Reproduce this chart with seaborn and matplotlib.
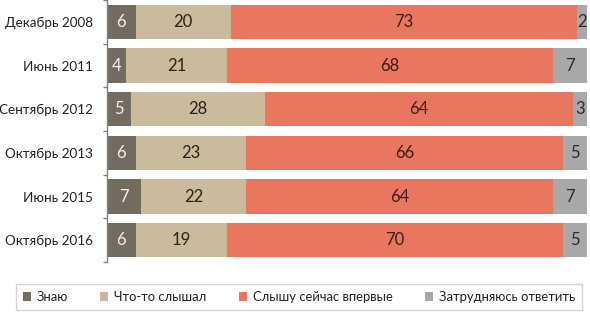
import matplotlib
matplotlib.use("Agg")
import matplotlib.pyplot as plt
import seaborn as sns
import numpy as np
import pandas as pd
from matplotlib.patches import Patch

categories = ["Декабрь 2008", "Июнь 2011", "Сентябрь 2012", "Октябрь 2013", "Июнь 2015", "Октябрь 2016"]
know = [6, 4, 5, 6, 7, 6]
heard = [20, 21, 28, 23, 22, 19]
first_time = [73, 68, 64, 66, 64, 70]
hard = [2, 7, 3, 5, 7, 5]
series_names = ["Знаю", "Что-то слышал", "Слышу сейчас впервые", "Затрудняюсь ответить"]
colors = ["#716c5f", "#cbbb9d", "#e9775f", "#a8a8a8"]
text_colors = ["#f2f2f2", "#2b2118", "#3a1d14", "#2b2b2b"]

sns.set_theme(style="white")
plt.rcParams["font.family"] = ["Lato", "DejaVu Sans"]

vals = np.array([know, heard, first_time, hard], dtype=float)
totals = vals.sum(axis=0)
pct = vals / totals * 100
cum = np.cumsum(pct, axis=0)

fig = plt.figure(figsize=(5.9, 3.16), dpi=100)
ax = fig.add_axes([107/590, 54/316, 480/590, 262/316])

# draw back to front (cumulative stacking)
for i in range(3, -1, -1):
    df = pd.DataFrame({"cat": categories, "val": cum[i]})
    sns.barplot(data=df, x="val", y="cat", orient="h", color=colors[i],
                width=0.79, ax=ax, saturation=1, edgecolor="none", linewidth=0)

for i in range(4):
    for j, c in enumerate(categories):
        start = cum[i][j] - pct[i][j]
        ax.text(start + pct[i][j] / 2, j, f"{int(vals[i][j])}", ha="center", va="center",
                fontsize=12, color=text_colors[i])

ax.set_xlim(0, 100)
ax.set_ylim(5.5, -0.5)
ax.set_xlabel("")
ax.set_ylabel("")
ax.set_xticks([])
for s in ["top", "right", "bottom"]:
    ax.spines[s].set_visible(False)
ax.spines["left"].set_color("#808080")
ax.spines["left"].set_linewidth(1)
ax.set_yticks(range(len(categories)))
ax.set_yticklabels(categories, fontsize=9.7, color="#222222")
ax.tick_params(axis="y", which="major", length=0, pad=10)
ax.set_yticks(np.arange(-0.5, 6, 1), minor=True)
ax.tick_params(axis="y", which="minor", length=3, color="#808080", width=1, left=True)

handles = [Patch(facecolor=colors[i], edgecolor="none", label=series_names[i]) for i in range(4)]
leg = fig.legend(handles=handles, loc="center", bbox_to_anchor=(299/590, 1 - 297/316),
                 ncol=4, frameon=True, fontsize=9.4, handlelength=0.6, handleheight=0.6,
                 handletextpad=0.45, columnspacing=2.5, borderpad=0.55, fancybox=False)
leg.get_frame().set_edgecolor("#c8c8c8")
leg.get_frame().set_linewidth(1)
for t in leg.get_texts():
    t.set_color("#222222")

fig.savefig("out.png", dpi=100)
